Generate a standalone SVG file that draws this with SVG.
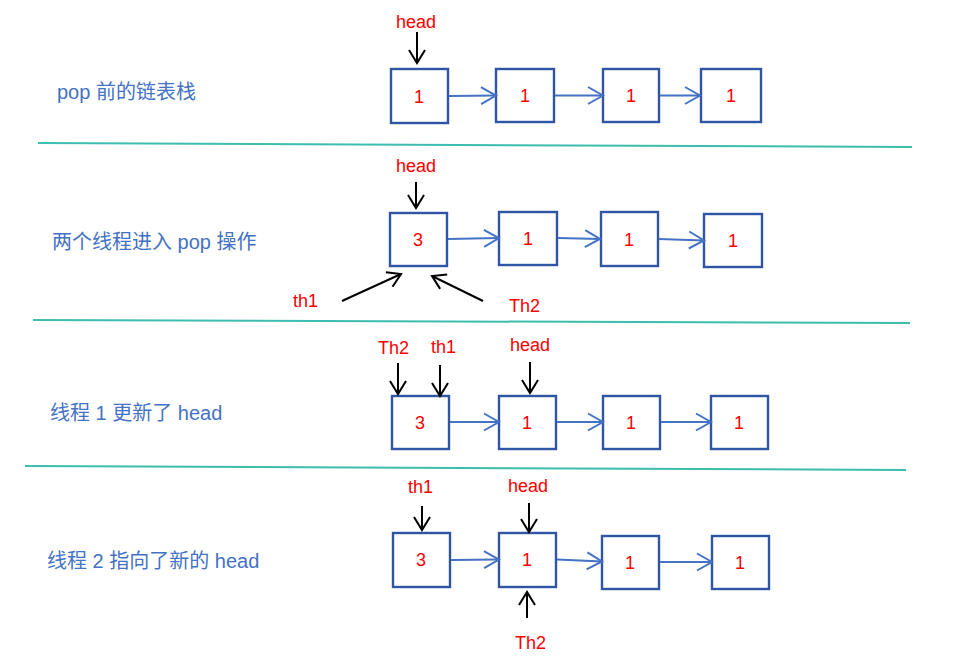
<svg xmlns="http://www.w3.org/2000/svg" width="955" height="662" viewBox="0 0 955 662">
<style>
.bg{fill:#ffffff}
.node rect{fill:#ffffff;stroke:#2F55A4;stroke-width:2.4}
.node text{font-family:"Liberation Sans",Arial,sans-serif;font-size:18px;fill:#FF0000;text-anchor:middle}
.lbl{font-family:"Liberation Sans",Arial,sans-serif;font-size:18px;fill:#FF0000}
.cap{font-family:"Liberation Sans","Noto Sans CJK SC",sans-serif;font-size:20px;fill:#4472C4}
.link{stroke:#4472C4;stroke-width:2;fill:none;marker-end:url(#ah)}
.ptr{stroke:#000000;stroke-width:2;fill:none;marker-end:url(#bh)}
.sep{stroke:#3CBDAE;stroke-width:2;fill:none}
</style>
<defs>
<marker id="ah" markerUnits="userSpaceOnUse" markerWidth="18" markerHeight="20" viewBox="0 0 18 20" refX="16" refY="10" orient="auto">
<path d="M1,1.5 L16,10 L1,18.5" fill="none" stroke="#4472C4" stroke-width="2"/>
</marker>
<marker id="bh" markerUnits="userSpaceOnUse" markerWidth="16" markerHeight="18" viewBox="0 0 16 18" refX="14" refY="9" orient="auto">
<path d="M1,1 L14,9 L1,17" fill="none" stroke="#000000" stroke-width="2"/>
</marker>
</defs>
<rect class="bg" x="0" y="0" width="955" height="662"/>

<g id="separators">
<line class="sep" x1="38" y1="143" x2="912" y2="147"/>
<line class="sep" x1="33" y1="320" x2="910" y2="323"/>
<line class="sep" x1="25" y1="466" x2="906" y2="470"/>
</g>

<g id="captions">
<text class="cap" x="57" y="99">pop 前的链表栈</text>
<text class="cap" x="52" y="249">两个线程进入 pop 操作</text>
<text class="cap" x="50" y="420">线程 1 更新了 head</text>
<text class="cap" x="47" y="568">线程 2 指向了新的 head</text>
</g>

<!-- Row 1 -->
<g id="r1n1" class="node"><rect x="391" y="69" width="57" height="54"/><text x="419" y="103">1</text></g>
<g id="r1n2" class="node"><rect x="496" y="69" width="58" height="53"/><text x="525" y="102">1</text></g>
<g id="r1n3" class="node"><rect x="603" y="69" width="56" height="53"/><text x="631" y="102">1</text></g>
<g id="r1n4" class="node"><rect x="701" y="69" width="60" height="53"/><text x="731" y="102">1</text></g>

<!-- Row 2 -->
<g id="r2n1" class="node"><rect x="390" y="213" width="57" height="53"/><text x="418" y="246">3</text></g>
<g id="r2n2" class="node"><rect x="499" y="212" width="58" height="53"/><text x="528" y="245">1</text></g>
<g id="r2n3" class="node"><rect x="601" y="212" width="57" height="54"/><text x="629" y="246">1</text></g>
<g id="r2n4" class="node"><rect x="704" y="214" width="58" height="53"/><text x="733" y="247">1</text></g>

<!-- Row 3 -->
<g id="r3n1" class="node"><rect x="392" y="396" width="57" height="53"/><text x="420" y="429">3</text></g>
<g id="r3n2" class="node"><rect x="499" y="396" width="57" height="53"/><text x="527" y="429">1</text></g>
<g id="r3n3" class="node"><rect x="603" y="396" width="57" height="53"/><text x="631" y="429">1</text></g>
<g id="r3n4" class="node"><rect x="711" y="396" width="57" height="53"/><text x="739" y="429">1</text></g>

<!-- Row 4 -->
<g id="r4n1" class="node"><rect x="393" y="533" width="57" height="54"/><text x="421" y="566">3</text></g>
<g id="r4n2" class="node"><rect x="499" y="533" width="57" height="54"/><text x="527" y="566">1</text></g>
<g id="r4n3" class="node"><rect x="602" y="536" width="57" height="53"/><text x="630" y="569">1</text></g>
<g id="r4n4" class="node"><rect x="712" y="536" width="57" height="53"/><text x="740" y="569">1</text></g>

<g id="pointer-labels">
<text class="lbl" x="396" y="28">head</text>
<text class="lbl" x="396" y="172">head</text>
<text class="lbl" x="293" y="307">th1</text>
<text class="lbl" x="509" y="312">Th2</text>
<text class="lbl" x="378" y="354">Th2</text>
<text class="lbl" x="431" y="353">th1</text>
<text class="lbl" x="510" y="351">head</text>
<text class="lbl" x="408" y="493">th1</text>
<text class="lbl" x="508" y="492">head</text>
<text class="lbl" x="515" y="649">Th2</text>
</g>

<g id="connectors">
<line class="link" x1="449" y1="96" x2="496" y2="95.5"/>
<line class="link" x1="555" y1="95.5" x2="603" y2="95.5"/>
<line class="link" x1="660" y1="95.5" x2="700" y2="95.5"/>

<line class="link" x1="448" y1="239" x2="499" y2="238"/>
<line class="link" x1="558" y1="238" x2="600" y2="239"/>
<line class="link" x1="659" y1="239" x2="704" y2="240.5"/>

<line class="link" x1="450" y1="422" x2="499" y2="422"/>
<line class="link" x1="557" y1="422" x2="603" y2="422"/>
<line class="link" x1="661" y1="422" x2="711" y2="422"/>

<line class="link" x1="451" y1="560" x2="499" y2="559.5"/>
<line class="link" x1="557" y1="559.5" x2="602" y2="561.5"/>
<line class="link" x1="660" y1="562" x2="712" y2="562"/>

<line class="ptr" x1="417" y1="32" x2="417" y2="63"/>
<line class="ptr" x1="416" y1="182" x2="416" y2="208"/>
<line class="ptr" x1="342" y1="301" x2="401" y2="274"/>
<line class="ptr" x1="483" y1="301" x2="432" y2="276"/>
<line class="ptr" x1="398" y1="363" x2="398" y2="394"/>
<line class="ptr" x1="440" y1="365" x2="440" y2="396"/>
<line class="ptr" x1="530" y1="362" x2="530" y2="393"/>
<line class="ptr" x1="422" y1="506" x2="422" y2="530"/>
<line class="ptr" x1="529" y1="503" x2="529" y2="532"/>
<line class="ptr" x1="527" y1="618" x2="527" y2="592"/>
</g>
</svg>
